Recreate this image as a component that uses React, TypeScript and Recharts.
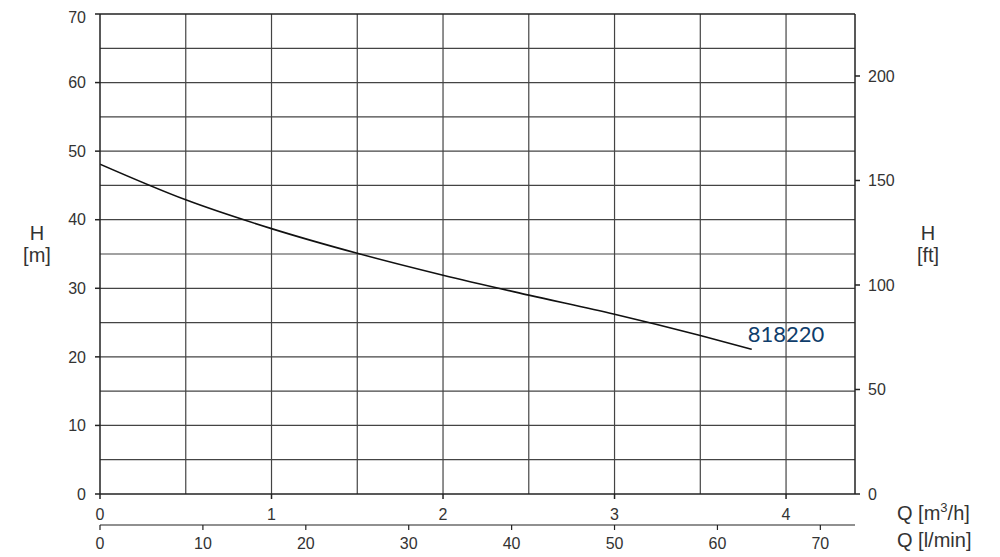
import {
  ComposedChart,
  Line,
  XAxis,
  YAxis,
  ReferenceLine,
  ReferenceDot,
  Label,
} from 'recharts'

// pump curve, flow in m3/h, head in m
const FLOW = [0, 0.5, 1.0, 1.5, 2.0, 2.5, 3.0, 3.5, 3.8]
const HEAD = [48.1, 42.9, 38.7, 35.1, 31.9, 29.0, 26.2, 23.1, 21.1]

const Q_MAX = 4.402
const LMIN_PER_M3H = 16.667
const L_MAX = Q_MAX * LMIN_PER_M3H
const H_MAX = 70
const FT_MAX = H_MAX * 3.28084

const Q_TICKS = [0, 1, 2, 3, 4]
const L_TICKS = [0, 10, 20, 30, 40, 50, 60, 70]
const H_TICKS = [0, 10, 20, 30, 40, 50, 60, 70]
const FT_TICKS = [0, 50, 100, 150, 200]

const Q_GRID = [0.5, 1, 1.5, 2, 2.5, 3, 3.5, 4]
const H_GRID = [5, 10, 15, 20, 25, 30, 35, 40, 45, 50, 55, 60, 65]

const CURVE_NAME = '818220'
const CURVE_LABEL_AT = { q: 4.0, h: 23.3 }

const data = FLOW.map((q, i) => ({ q, l: q * LMIN_PER_M3H, h: HEAD[i], ft: HEAD[i] * 3.28084 }))

const TEXT = '#333'
const GRID = '#444'
const tick = { fill: TEXT, fontSize: 16 }

const title: React.CSSProperties = {
  position: 'absolute',
  fontSize: 20,
  color: TEXT,
  lineHeight: '22px',
  whiteSpace: 'nowrap',
}

// axis ids: bottom axes are stacked by id, so the m3/h axis gets the first one
const QX = 'a_q'
const LX = 'b_l'

export default function App() {
  return (
    <div style={{ position: 'relative', width: 992, height: 549, fontFamily: '"Liberation Sans", Arial, sans-serif' }}>
      <ComposedChart
        width={992}
        height={549}
        data={data}
        margin={{ top: 6, right: 85, bottom: 2, left: 32 }}
      >
        <XAxis
          xAxisId={QX}
          type="number"
          dataKey="q"
          domain={[0, Q_MAX]}
          ticks={Q_TICKS}
          allowDataOverflow
          height={31}
          tick={tick}
          tickSize={5}
          tickMargin={10}
          stroke="#222"
          strokeWidth={1.5}
        />
        <XAxis
          xAxisId={LX}
          type="number"
          dataKey="l"
          domain={[0, L_MAX]}
          ticks={L_TICKS}
          allowDataOverflow
          height={30}
          tick={tick}
          tickSize={5}
          tickMargin={8}
          stroke="#222"
          strokeWidth={1.2}
        />
        <YAxis
          yAxisId="m"
          type="number"
          dataKey="h"
          domain={[0, H_MAX]}
          ticks={H_TICKS}
          allowDataOverflow
          width={60}
          tick={tick}
          tickSize={5}
          tickMargin={9}
          stroke="#222"
          strokeWidth={1.5}
        />
        <YAxis
          yAxisId="ft"
          orientation="right"
          type="number"
          dataKey="ft"
          domain={[0, FT_MAX]}
          ticks={FT_TICKS}
          allowDataOverflow
          width={60}
          tick={tick}
          tickSize={5}
          tickMargin={8}
          stroke="#222"
          strokeWidth={1.5}
        />
        {Q_GRID.map(q => (
          <ReferenceLine key={'v' + q} xAxisId={QX} yAxisId="m" x={q} stroke={GRID} strokeWidth={1.2} />
        ))}
        {H_GRID.map(h => (
          <ReferenceLine key={'h' + h} xAxisId={QX} yAxisId="m" y={h} stroke={GRID} strokeWidth={1.2} />
        ))}
        <ReferenceLine xAxisId={QX} yAxisId="m" y={H_MAX} stroke="#222" strokeWidth={1.5} />
        <Line
          xAxisId={QX}
          yAxisId="m"
          type="monotone"
          dataKey="h"
          stroke="#111"
          strokeWidth={1.6}
          dot={false}
          isAnimationActive={false}
        />
        <Line
          xAxisId={LX}
          yAxisId="ft"
          dataKey="ft"
          stroke="none"
          dot={false}
          activeDot={false}
          legendType="none"
          isAnimationActive={false}
        />
        <ReferenceDot xAxisId={QX} yAxisId="m" x={CURVE_LABEL_AT.q} y={CURVE_LABEL_AT.h} r={0} fill="none" stroke="none">
          <Label value={CURVE_NAME} position="center" fill="#0f3d6b" fontSize={22} fontFamily="Lato, sans-serif" />
        </ReferenceDot>
      </ComposedChart>
      <div style={{ ...title, left: 9, top: 214, width: 40, textAlign: 'center' }}>H<br />[m]</div>
      <div style={{ ...title, left: 900, top: 214, width: 40, textAlign: 'center' }}>H<br />[ft]</div>
      <div style={{ ...title, left: 889, top: 489 }}>Q [m<sup style={{ fontSize: 13 }}>3</sup>/h]</div>
      <div style={{ ...title, left: 889, top: 521 }}>Q [l/min]</div>
    </div>
  )
}
